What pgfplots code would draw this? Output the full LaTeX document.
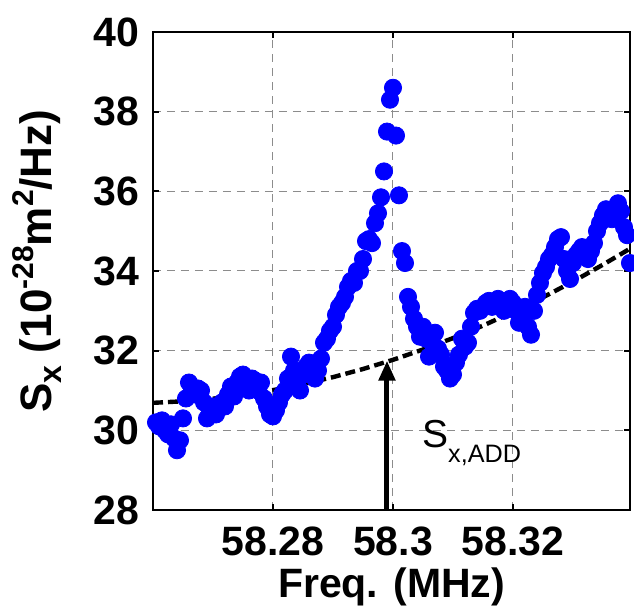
\documentclass[border=0pt]{standalone}
\usepackage{fontspec}
\setmainfont{Liberation Sans}
\usepackage{pgfplots}
\pgfplotsset{compat=1.18}
\usepackage{pgfplotstable}
\usetikzlibrary{arrows.meta}
\definecolor{mblue}{RGB}{0,0,255}
\definecolor{gridgray}{RGB}{140,140,140}
\pgfplotstableread{
x y
58.2605 30.2
58.2610 30.1
58.2615 30.25
58.2620 30.0
58.2625 29.9
58.2630 30.15
58.2635 29.8
58.2640 29.5
58.2645 29.75
58.2650 30.3
58.2655 30.8
58.2660 31.2
58.2665 31.0
58.2670 30.9
58.2675 31.05
58.2680 31.0
58.2685 30.7
58.2690 30.3
58.2695 30.5
58.2700 30.6
58.2705 30.4
58.2710 30.55
58.2715 30.7
58.2720 30.6
58.2725 30.9
58.2730 31.1
58.2735 30.85
58.2740 31.2
58.2745 31.35
58.2750 31.4
58.2755 31.1
58.2760 31.0
58.2765 31.3
58.2770 31.25
58.2775 31.0
58.2780 31.2
58.2785 30.8
58.2790 30.6
58.2795 30.4
58.2800 30.35
58.2805 30.5
58.2810 30.7
58.2815 30.9
58.2820 31.0
58.2825 31.3
58.2830 31.85
58.2835 31.5
58.2840 31.2
58.2845 31.0
58.2850 31.4
58.2855 31.6
58.2860 31.7
58.2865 31.45
58.2870 31.3
58.2875 31.5
58.2880 31.8
58.2885 32.2
58.2890 32.3
58.2895 32.5
58.2900 32.6
58.2905 32.9
58.2910 33.1
58.2915 33.2
58.2920 33.35
58.2925 33.6
58.2930 33.75
58.2935 33.7
58.2940 34.0
58.2945 34.0
58.2950 34.3
58.2955 34.75
58.2960 34.8
58.2965 34.7
58.2970 35.2
58.2975 35.45
58.2980 35.85
58.2985 36.5
58.2990 37.5
58.2995 38.3
58.3000 38.6
58.3005 37.4
58.3010 35.9
58.3015 34.5
58.3020 34.2
58.3025 33.35
58.3030 33.1
58.3035 32.8
58.3040 32.6
58.3045 32.35
58.3050 32.6
58.3055 32.3
58.3060 31.85
58.3065 32.2
58.3070 32.45
58.3075 32.05
58.3080 31.9
58.3085 31.6
58.3090 31.5
58.3095 31.3
58.3100 31.4
58.3105 31.7
58.3110 31.9
58.3115 32.3
58.3120 32.1
58.3125 32.2
58.3130 32.6
58.3135 32.95
58.3140 33.05
58.3145 33.0
58.3150 33.1
58.3155 33.2
58.3160 33.25
58.3165 33.1
58.3170 33.15
58.3175 33.3
58.3180 33.25
58.3185 33.0
58.3190 33.2
58.3195 33.3
58.3200 33.2
58.3205 33.0
58.3210 32.7
58.3215 32.9
58.3220 33.1
58.3225 32.6
58.3230 32.4
58.3235 33.0
58.3240 33.4
58.3245 33.7
58.3250 33.95
58.3255 34.1
58.3260 34.3
58.3265 34.4
58.3270 34.6
58.3275 34.8
58.3280 34.85
58.3285 34.3
58.3290 34.0
58.3295 33.8
58.3300 34.2
58.3305 34.4
58.3310 34.5
58.3315 34.6
58.3320 34.4
58.3325 34.3
58.3330 34.5
58.3335 34.7
58.3340 35.0
58.3345 35.2
58.3350 35.4
58.3355 35.55
58.3360 35.45
58.3365 35.3
58.3370 35.5
58.3375 35.7
58.3380 35.5
58.3385 35.1
58.3390 34.9
58.3395 34.2
}\datatable
\pgfplotstableread{
x y
58.2600 30.690
58.2650 30.729
58.2700 30.795
58.2750 30.889
58.2800 31.010
58.2850 31.159
58.2900 31.335
58.2950 31.539
58.3000 31.770
58.3050 32.029
58.3100 32.315
58.3150 32.629
58.3200 32.970
58.3250 33.339
58.3300 33.735
58.3350 34.159
58.3395 34.560
}\fittable
\begin{document}
\begin{tikzpicture}
\begin{axis}[
  scale only axis,
  width=238.5pt, height=239pt,
  xmin=58.26, xmax=58.3395,
  ymin=28, ymax=40,
  xtick={58.28,58.3,58.32},
  xticklabels={58.28,58.3,58.32},
  ytick={28,30,32,34,36,38,40},
  grid=major,
  major grid style={gridgray, line width=0.5pt, dash pattern=on 4pt off 3pt},
  axis line style={line width=1.3pt, black},
  tick align=inside,
  xtick pos=both, ytick pos=both,
  major tick length=3pt,
  tick style={black, line width=1pt},
  /pgf/number format/assume math mode=true,
  tick label style={font=\fontsize{20.5}{24}\selectfont\bfseries, inner sep=0pt},
  xticklabel style={anchor=base, yshift=-23pt},
  yticklabel style={anchor=east, xshift=-6.5pt},
  xlabel={Freq. (MHz)},
  xlabel style={font=\fontsize{20.5}{24}\selectfont\bfseries, at={(axis description cs:0.5,0)}, anchor=base, yshift=-44pt, inner sep=0pt},
  ylabel={S\raisebox{-5pt}{\fontsize{16}{16}\selectfont x} (10\raisebox{9pt}{\fontsize{15}{15}\selectfont -28}m\raisebox{9pt}{\fontsize{15}{15}\selectfont 2}/Hz)},
  ylabel style={font=\fontsize{22}{26}\selectfont\bfseries, at={(axis description cs:0,0.5)}, anchor=center, yshift=58pt, xshift=5pt, inner sep=0pt},
  clip=false,
  axis on top=false,
]
\addplot[only marks, mark=*, mark size=4.3pt, color=mblue, mark options={draw=mblue, fill=mblue}] table[x=x,y=y] {\datatable};
\addplot[black, line width=2.2pt, dash pattern=on 5pt off 2.5pt] table[x=x,y=y] {\fittable};
\draw[-{Triangle[width=8pt,length=10pt]}, line width=2.5pt] (axis cs:58.299,28) -- (axis cs:58.299,31.75);
\node[anchor=base west, inner sep=0pt, font=\fontsize{19.5}{20}\selectfont] at (axis cs:58.3048,29.58) {S\raisebox{-7.5pt}{\fontsize{12.6}{13}\selectfont x,ADD}};
\coordinate (ll) at (rel axis cs:0,0);
\coordinate (ur) at (rel axis cs:1,1);
\end{axis}
\pgfresetboundingbox
\useasboundingbox ([xshift=-76.5pt,yshift=-53pt]ll) rectangle ([xshift=2pt,yshift=16pt]ur);
\end{tikzpicture}
\end{document}
